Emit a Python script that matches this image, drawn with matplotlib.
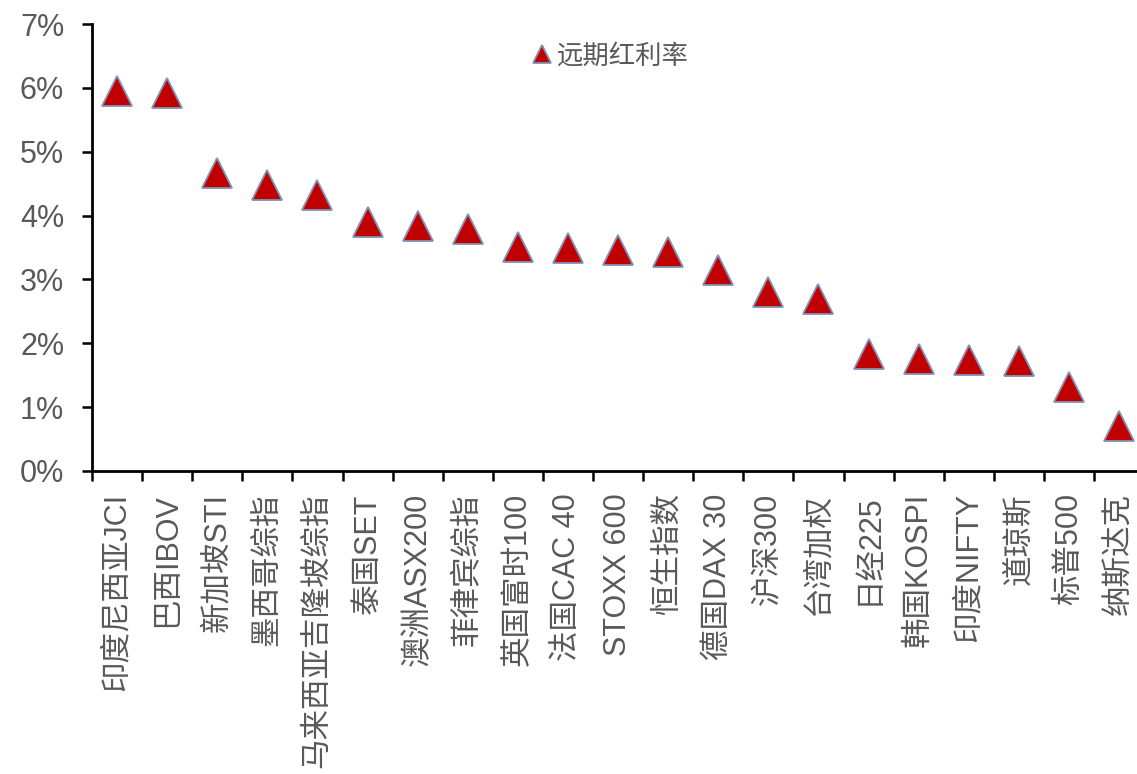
import matplotlib
matplotlib.use("Agg")
import matplotlib.pyplot as plt
from matplotlib.ticker import FixedLocator, FuncFormatter

categories = ["印度尼西亚JCI", "巴西IBOV", "新加坡STI", "墨西哥综指", "马来西亚吉隆坡综指",
              "泰国SET", "澳洲ASX200", "菲律宾综指", "英国富时100", "法国CAC 40",
              "STOXX 600", "恒生指数", "德国DAX 30", "沪深300", "台湾加权",
              "日经225", "韩国KOSPI", "印度NIFTY", "道琼斯", "标普500", "纳斯达克"]
values = [5.95, 5.92, 4.66, 4.48, 4.32, 3.90, 3.83, 3.79, 3.51, 3.49, 3.46,
          3.43, 3.14, 2.81, 2.70, 1.84, 1.76, 1.74, 1.72, 1.31, 0.70]
series_name = "远期红利率"
yticks = [0, 1, 2, 3, 4, 5, 6, 7]

plt.rcParams['font.family'] = ['Liberation Sans', 'Noto Sans CJK SC', 'DejaVu Sans']

W, H = 1137, 774
fig = plt.figure(figsize=(W / 100, H / 100), dpi=100)
ax = fig.add_axes([92 / W, 1 - 471 / H, 21 * 50.1 / W, (471 - 24) / H])

x = list(range(len(categories)))
ax.plot(x, values, linestyle='none', marker='^', markersize=21.5,
        markerfacecolor='#C00000', markeredgecolor='#7F93B8', markeredgewidth=1.3,
        label=series_name, clip_on=False, zorder=3)

ax.set_xlim(-0.5, len(categories) - 0.5)
ax.set_ylim(0, 7)

for s in ['top', 'right']:
    ax.spines[s].set_visible(False)
for s in ['left', 'bottom']:
    ax.spines[s].set_linewidth(2.0)
    ax.spines[s].set_color('black')

ax.yaxis.set_major_locator(FixedLocator(yticks))
ax.yaxis.set_major_formatter(FuncFormatter(lambda v, p: f"{int(round(v))}%"))
ax.tick_params(axis='y', direction='out', length=7, width=1.8, color='black',
               labelsize=22, labelcolor='#595959', pad=13)

ax.xaxis.set_major_locator(FixedLocator([i - 0.5 for i in range(len(categories) + 1)]))
ax.xaxis.set_major_formatter(FuncFormatter(lambda v, p: ""))
ax.xaxis.set_minor_locator(FixedLocator(x))
ax.set_xticklabels(categories, minor=True, rotation=90, va='top', ha='center')
ax.tick_params(axis='x', which='major', direction='out', length=7, width=1.8, color='black')
ax.tick_params(axis='x', which='minor', length=0, labelsize=22, labelcolor='#595959', pad=16)

leg = ax.legend(loc='center left', bbox_to_anchor=(531 / W, 1 - 56 / H),
                bbox_transform=fig.transFigure, frameon=False, markerscale=0.62,
                handlelength=0.8, handletextpad=0.2, borderpad=0, borderaxespad=0,
                prop={'size': 19})
for t in leg.get_texts():
    t.set_color('#595959')

fig.savefig('out.png', dpi=100)
